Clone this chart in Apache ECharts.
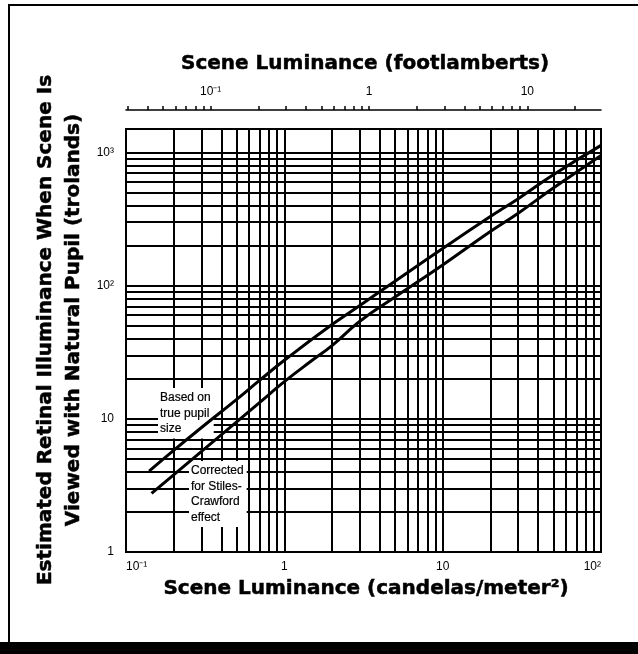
<!DOCTYPE html>
<html>
<head>
    <meta charset="utf-8">
    <script src="https://cdn.jsdelivr.net/npm/echarts@6/dist/echarts.min.js"></script>
    <style>html,body{margin:0;padding:0;background:#fff;}</style>
</head>
<body>
    <div id="main" style="width: 638px;height:654px;"></div>
    <script type="text/javascript">
        // scene luminance (cd/m2) -> retinal illuminance (trolands)
        var truePupilLum = [0.14, 0.2, 0.3, 0.5, 0.7, 1, 2, 3, 5, 10, 20, 30, 50, 100];
        var truePupilTd  = [4.05, 5.8, 8.6, 14, 19.5, 27.5, 51, 71, 108, 190, 330, 450, 680, 1130];
        var stilesLum = [0.145, 0.2, 0.3, 0.5, 0.7, 1, 1.5, 2, 3, 5, 10, 20, 30, 50, 100];
        var stilesTd  = [2.76, 3.8, 5.7, 9.5, 13.3, 19, 27.5, 35.5, 54, 82, 143, 255, 350, 540, 950];

        // grid lines and ticks
        var xGridLines = [0.2, 0.3, 0.4, 0.5, 0.6, 0.7, 0.8, 0.9, 1, 2, 3, 4, 5, 6, 7, 8, 9, 10, 20, 30, 40, 50, 60, 70, 80, 90];
        var yGridLines = [2, 3, 4, 5, 6, 7, 8, 9, 10, 20, 30, 40, 50, 60, 70, 80, 90, 100, 200, 300, 400, 500, 600, 700, 800, 900, 1000];
        var fLTicks = [0.03, 0.04, 0.05, 0.06, 0.07, 0.08, 0.09, 0.1, 0.2, 0.3, 0.4, 0.5, 0.6, 0.7, 0.8, 0.9, 1, 2, 3, 4, 5, 6, 7, 8, 9, 10, 20];
        var fLLabels = [0.1, 1, 10];
        var CDM2_PER_FL = 3.426;

        var powLabel = {'-1': '10⁻¹', '0': '1', '1': '10', '2': '10²', '3': '10³'};
        function fmtPow(v) {
            var l = Math.log(v) / Math.LN10;
            var e = Math.round(l);
            if (Math.abs(l - e) > 1e-6) return '';
            return powLabel[e] || '';
        }
        function pairs(xs, ys) {
            return xs.map(function (x, i) { return [x, ys[i]]; });
        }

        var heavy = {fontFamily: 'DejaVu Sans', fontWeight: 'bold', fontSize: 20,
                     fill: '#000', stroke: '#000', lineWidth: 0.5};
        var small = {fontFamily: 'Liberation Sans', fontSize: 12, color: '#000'};
        var note = {fontFamily: 'Liberation Sans', fontSize: 12, lineHeight: 15.5, fill: '#000',
                    stroke: '#000', lineWidth: 0.2, backgroundColor: '#fff', padding: [2, 3, 2, 2]};

        var myChart = echarts.init(document.getElementById('main'));
        myChart.setOption({
            animation: false,
            backgroundColor: '#fff',
            grid: {left: 126, right: 37, top: 129, bottom: 102, show: true,
                   borderColor: '#000', borderWidth: 2, backgroundColor: 'transparent'},
            xAxis: [{
                type: 'log', logBase: 10, min: 0.1, max: 100, gridIndex: 0,
                axisLine: {show: false}, axisTick: {show: false}, splitLine: {show: false},
                axisLabel: Object.assign({margin: 9, formatter: fmtPow,
                    alignMinLabel: 'left', alignMaxLabel: 'right'}, small)
            }, {
                type: 'log', logBase: 10, position: 'top', offset: 19, gridIndex: 0,
                min: 0.1 / CDM2_PER_FL, max: 100 / CDM2_PER_FL,
                axisLine: {show: true, lineStyle: {color: '#000', width: 1.5}},
                axisTick: {show: true, inside: false, length: 4, customValues: fLTicks,
                           lineStyle: {color: '#000', width: 1.5}},
                splitLine: {show: false},
                axisLabel: Object.assign({margin: 12, formatter: fmtPow, customValues: fLLabels}, small)
            }],
            yAxis: {
                type: 'log', logBase: 10, min: 1, max: 1500,
                axisLine: {show: false}, axisTick: {show: false}, splitLine: {show: false},
                axisLabel: Object.assign({margin: 12, formatter: fmtPow}, small)
            },
            series: [{
                type: 'line', z: 1, silent: true, data: [[1, 1]], showSymbol: false,
                lineStyle: {width: 0},
                markLine: {
                    z: 1, symbol: ['none', 'none'], silent: true, animation: false,
                    label: {show: false},
                    lineStyle: {color: '#000', width: 2, type: 'solid'},
                    data: xGridLines.map(function (v) { return {xAxis: v}; })
                        .concat(yGridLines.map(function (v) { return {yAxis: v}; }))
                }
            }, {
                name: 'Based on true pupil size', type: 'line', z: 10,
                data: pairs(truePupilLum, truePupilTd),
                smooth: true, showSymbol: false,
                lineStyle: {color: '#000', width: 3}
            }, {
                name: 'Corrected for Stiles-Crawford effect', type: 'line', z: 10,
                data: pairs(stilesLum, stilesTd),
                smooth: true, showSymbol: false,
                lineStyle: {color: '#000', width: 3}
            }],
            graphic: [
                // page frame
                {type: 'line', z: 20, shape: {x1: 9, y1: 5, x2: 9, y2: 642}, style: {stroke: '#000', lineWidth: 2}},
                {type: 'line', z: 20, shape: {x1: 8, y1: 5, x2: 638, y2: 5}, style: {stroke: '#000', lineWidth: 2}},
                {type: 'rect', z: 20, shape: {x: 0, y: 642, width: 638, height: 12}, style: {fill: '#000'}},
                // titles
                {type: 'text', z: 20, x: 365, y: 64,
                 style: Object.assign({text: 'Scene Luminance (footlamberts)', textAlign: 'center', textVerticalAlign: 'middle'}, heavy)},
                {type: 'text', z: 20, x: 366, y: 589,
                 style: Object.assign({text: 'Scene Luminance (candelas/meter²)', textAlign: 'center', textVerticalAlign: 'middle'}, heavy)},
                {type: 'text', z: 20, x: 46, y: 330, rotation: Math.PI / 2,
                 style: Object.assign({text: 'Estimated Retinal Illuminance When Scene Is', textAlign: 'center', textVerticalAlign: 'middle'}, heavy)},
                {type: 'text', z: 20, x: 74, y: 320, rotation: Math.PI / 2,
                 style: Object.assign({text: 'Viewed with Natural Pupil (trolands)', textAlign: 'center', textVerticalAlign: 'middle'}, heavy)},
                // curve labels
                {type: 'text', z: 8, x: 158, y: 388,
                 style: Object.assign({text: 'Based on\ntrue pupil\nsize'}, note)},
                {type: 'text', z: 8, x: 189, y: 461,
                 style: Object.assign({text: 'Corrected\nfor Stiles-\nCrawford\neffect'}, note)}
            ]
        });
    </script>
</body>
</html>
